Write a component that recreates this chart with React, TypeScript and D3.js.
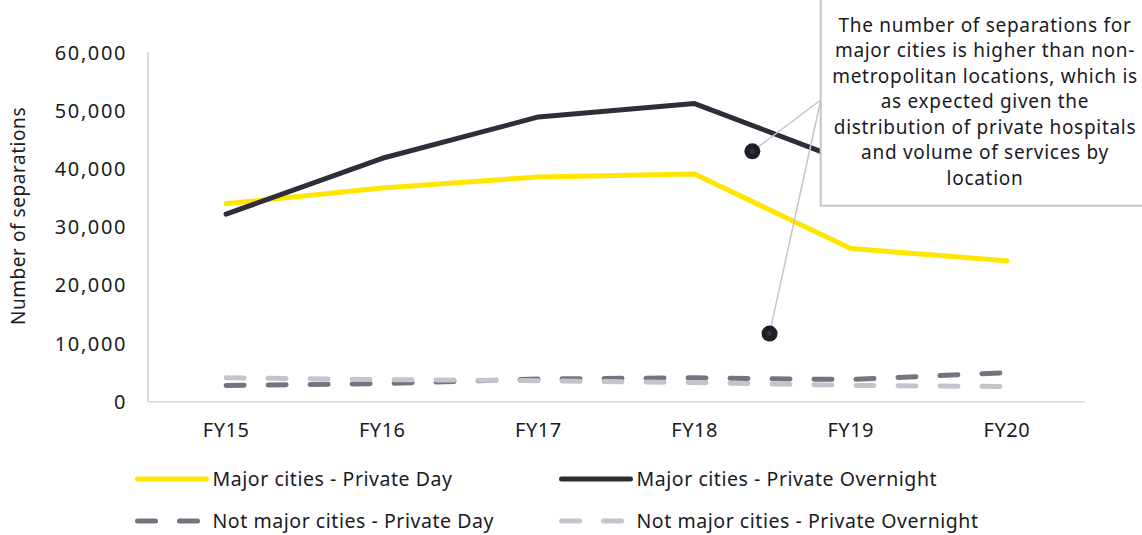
import React from "react";
import * as d3 from "d3";

// Financial years on the x axis
const categories = ["FY15", "FY16", "FY17", "FY18", "FY19", "FY20"];

// Hospital separations per series
const majorDay = [34000, 36700, 38600, 39100, 26300, 24200];
const majorOvernight = [32200, 41800, 48900, 51200, 41000, 39500];
const notMajorDay = [2800, 3100, 3900, 4100, 3800, 5000];
const notMajorOvernight = [4100, 3800, 3600, 3300, 2800, 2600];

const seriesNames = [
  "Major cities - Private Day",
  "Major cities - Private Overnight",
  "Not major cities - Private Day",
  "Not major cities - Private Overnight",
];

const yTicks = [0, 10000, 20000, 30000, 40000, 50000, 60000];

const annotationLines = [
  "The number of separations for",
  "major cities is higher than non-",
  "metropolitan locations, which is",
  "as expected given the",
  "distribution of private hospitals",
  "and volume of services by",
  "location",
];

// Callout anchor points in (category index, value) units
const calloutAnchors = [
  { at: 3.37, value: 43000 },
  { at: 3.48, value: 11700 },
];

const W = 1142;
const H = 535;
const FONT = "'Noto Sans', 'DejaVu Sans', sans-serif";
const TEXT = "#1A1A24";

const COLORS = ["#FFE600", "#2E2E38", "#747480", "#C4C4CD"];
const DASHED = [false, false, true, true];

export default function App() {
  const plotLeft = 148;
  const plotRight = 1085;
  const plotTop = 52.3;
  const plotBottom = 401.7;

  const x = d3.scaleBand<string>().domain(categories).range([plotLeft, plotRight]).padding(0);
  const xc = (c: string) => (x(c) as number) + x.bandwidth() / 2;
  const xi = d3
    .scaleLinear()
    .domain([0, categories.length - 1])
    .range([xc(categories[0]), xc(categories[categories.length - 1])]);
  const y = d3.scaleLinear().domain([0, 60000]).range([plotBottom, plotTop]);
  const fmt = d3.format(",");

  const allSeries = [majorDay, majorOvernight, notMajorDay, notMajorOvernight];
  const line = d3
    .line<number>()
    .x((_, i) => xc(categories[i]))
    .y((d) => y(d));

  // Annotation box geometry
  const boxLeft = 820.7;
  const boxBottom = 205.7;
  const calloutOrigin = { x: boxLeft, y: 100 };
  const textCenterX = 985;
  const lineStep = 25.45;
  const firstLineY = 25;

  const legendRows = [479, 521];
  const legendCols = [137.5, 561.5];
  const sampleLen = 69;

  return (
    <svg
      width={W}
      height={H}
      viewBox={`0 0 ${W} ${H}`}
      style={{ position: "absolute", left: 0, top: 0, background: "#fff" }}
      fontFamily={FONT}
    >
      {/* axes */}
      <line x1={plotLeft} x2={plotLeft} y1={plotTop} y2={plotBottom} stroke="#CDCDD4" strokeWidth={1.5} />
      <line x1={plotLeft} x2={plotRight} y1={plotBottom} y2={plotBottom} stroke="#D6D6DC" strokeWidth={1.5} />

      {yTicks.map((t) => (
        <text
          key={t}
          x={127}
          y={y(t)}
          dy="0.36em"
          textAnchor="end"
          fontSize={20}
          letterSpacing={1.6}
          fill={TEXT}
        >
          {fmt(t)}
        </text>
      ))}

      {categories.map((c) => (
        <text key={c} x={xc(c)} y={430} dy="0.36em" textAnchor="middle" fontSize={20} letterSpacing={0.5} fill={TEXT}>
          {c}
        </text>
      ))}

      <text
        transform={`translate(18,216) rotate(-90)`}
        textAnchor="middle"
        dy="0.36em"
        fontSize={19}
        letterSpacing={0.55}
        fill={TEXT}
      >
        Number of separations
      </text>

      {/* series */}
      {allSeries.map((s, i) => (
        <path
          key={seriesNames[i]}
          d={line(s) as string}
          fill="none"
          stroke={COLORS[i]}
          strokeWidth={5}
          strokeLinecap="round"
          strokeLinejoin="round"
          strokeDasharray={DASHED[i] ? "18 24" : undefined}
        />
      ))}

      {/* annotation box */}
      <rect
        x={boxLeft}
        y={-10}
        width={W - boxLeft + 20}
        height={boxBottom + 10}
        fill="#fff"
        stroke="#C4C4CD"
        strokeWidth={2}
      />
      {annotationLines.map((t, i) => (
        <text
          key={i}
          x={textCenterX}
          y={firstLineY + i * lineStep}
          dy="0.36em"
          textAnchor="middle"
          fontSize={19}
          letterSpacing={0.7}
          fill={TEXT}
        >
          {t}
        </text>
      ))}

      {calloutAnchors.map((a, i) => (
        <g key={i}>
          <line
            x1={calloutOrigin.x}
            y1={calloutOrigin.y}
            x2={xi(a.at)}
            y2={y(a.value)}
            stroke="#C4C4CD"
            strokeWidth={1.5}
          />
          <circle cx={xi(a.at)} cy={y(a.value)} r={8} fill="#1E1E28" />
          <circle cx={xi(a.at)} cy={y(a.value)} r={2.5} fill="#34343E" />
        </g>
      ))}

      {/* legend */}
      {seriesNames.map((name, i) => {
        const row = legendRows[Math.floor(i / 2)];
        const col = legendCols[i % 2];
        return (
          <g key={name}>
            <line
              x1={col}
              x2={col + sampleLen}
              y1={row}
              y2={row}
              stroke={COLORS[i]}
              strokeWidth={5}
              strokeLinecap="round"
              strokeDasharray={DASHED[i] ? "18 24" : undefined}
            />
            <text x={col + 75} y={row} dy="0.36em" fontSize={19.5} letterSpacing={0.55} fill={TEXT}>
              {name}
            </text>
          </g>
        );
      })}
    </svg>
  );
}
